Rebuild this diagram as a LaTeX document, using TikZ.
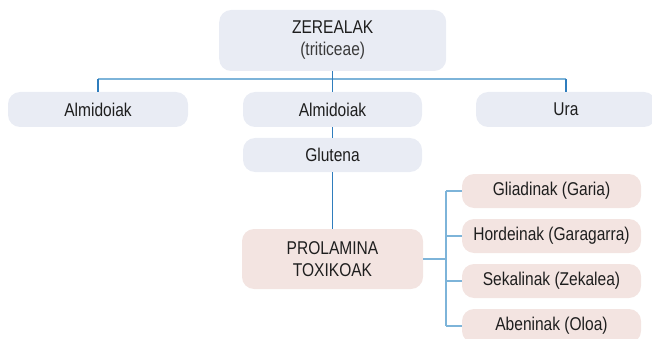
\documentclass[tikz,border=0pt]{standalone}
\usepackage{fontspec}
\setmainfont{Liberation Sans}[FakeStretch=0.84]
\definecolor{boxblue}{HTML}{E9ECF4}
\definecolor{boxpink}{HTML}{F3E4E1}
\definecolor{linelight}{HTML}{7DB4D9}
\definecolor{linedark}{HTML}{2F7DBD}
\definecolor{txt}{HTML}{1E1E1E}
\definecolor{txtgray}{HTML}{3A3A3A}
\begin{document}
\begin{tikzpicture}[x=1pt,y=-1pt,
  box/.style={rounded corners=12pt, inner sep=0pt, align=center, text=txt,
    font=\fontsize{18.5}{22}\selectfont},
  bluebox/.style={box, fill=boxblue},
  pinkbox/.style={box, fill=boxpink},
  rowbox/.style={minimum width=180pt, minimum height=35pt},
  rightbox/.style={pinkbox, minimum width=179pt, minimum height=34pt},
  bus/.style={draw=linelight, line width=1.8pt},
  link/.style={draw=linedark, line width=1.2pt}]
\useasboundingbox (0,0) rectangle (652,339);
% nodes
\node[bluebox, minimum width=227pt, minimum height=61pt] (top) at (332.7,40.5)
  {ZEREALAK\\{\color{txtgray}(triticeae)}};
\node[bluebox, rowbox] (alm1) at (98,109.5) {Almidoiak};
\node[bluebox, rowbox, minimum width=179pt] (alm2) at (332.5,109.5) {Almidoiak};
\node[bluebox, rowbox] (ura) at (566,109.5) {Ura};
\node[bluebox, minimum width=179pt, minimum height=34pt] (glu) at (332.5,155) {Glutena};
\node[pinkbox, minimum width=181pt, minimum height=60pt] (prol) at (332.5,259) {PROLAMINA\\TOXIKOAK};
\node[rightbox] (gli) at (551.5,191) {Gliadinak (Garia)};
\node[rightbox] (hor) at (551.5,236) {Hordeinak (Garagarra)};
\node[rightbox] (sek) at (551.5,281) {Sekalinak (Zekalea)};
\node[rightbox] (abe) at (551.5,326) {Abeninak (Oloa)};
% bus coordinates
\coordinate (bus) at (0,79);
\coordinate (rbus) at (446,0);
% top connectors
\draw[bus] (alm1.north |- bus) -- (ura.north |- bus);
\draw[link] (top.south) -- (top.south |- bus);
\draw[link] (alm1.north |- bus) -- (alm1.north);
\draw[link] (alm2.north |- bus) -- (alm2.north);
\draw[link] (ura.north |- bus) -- (ura.north);
\draw[link] (alm2.south) -- (glu.north);
\draw[link] (glu.south) -- (prol.north);
% right connectors
\draw[bus] (prol.east) -- (prol.east -| rbus);
\draw[bus] (rbus |- gli.west) -- (rbus |- abe.west);
\draw[bus] (rbus |- gli.west) -- (gli.west);
\draw[bus] (rbus |- hor.west) -- (hor.west);
\draw[bus] (rbus |- sek.west) -- (sek.west);
\draw[bus] (rbus |- abe.west) -- (abe.west);
\end{tikzpicture}
\end{document}
